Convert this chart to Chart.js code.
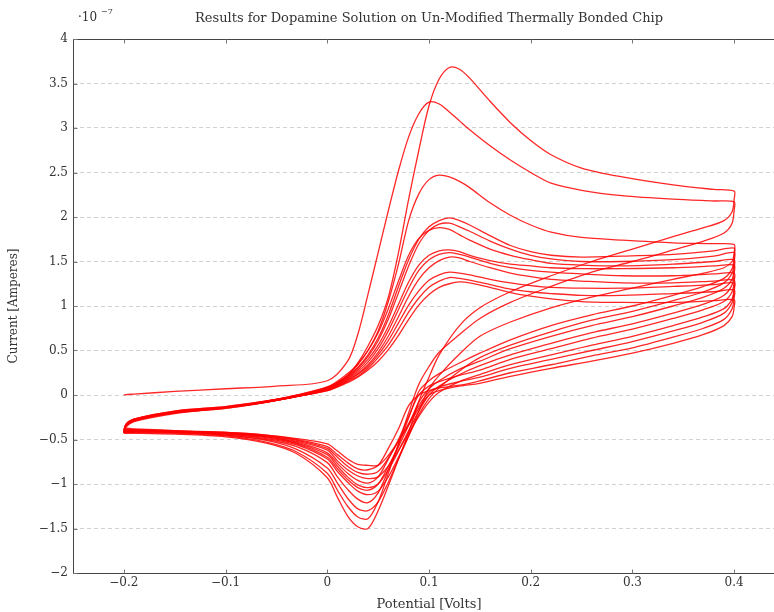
<!DOCTYPE html>
<html>
<head>
<meta charset="utf-8">
<script src="https://cdn.jsdelivr.net/npm/chart.js@4.4.1/dist/chart.umd.min.js"></script>
<style>
  html, body { margin: 0; padding: 0; background: #fff; overflow: hidden; }
  #wrap { width: 800px; height: 612px; }
</style>
</head>
<body>
<div id="wrap"><canvas id="cv" width="800" height="612"></canvas></div>
<script>
// tick labels
const xTicks = [-0.2, -0.1, 0, 0.1, 0.2, 0.3, 0.4];
const yTicks = [-2, -1.5, -1, -0.5, 0, 0.5, 1, 1.5, 2, 2.5, 3, 3.5, 4];

// potential [V] sampled on the forward (anodic) and reverse (cathodic) sweeps
const potentialFwd = [-0.2, -0.198, -0.19, -0.15, -0.1, -0.05, 0, 0.02, 0.03, 0.04, 0.05, 0.06, 0.07, 0.08,
  0.09, 0.1, 0.11, 0.12, 0.13, 0.14, 0.16, 0.18, 0.2, 0.22, 0.25, 0.29, 0.34, 0.38, 0.4];
const potentialRev = [0.4, 0.398, 0.39, 0.37, 0.34, 0.3, 0.26, 0.22, 0.18, 0.15, 0.13, 0.11, 0.1, 0.09,
  0.08, 0.07, 0.06, 0.05, 0.04, 0.03, 0.02, 0.01, 0, -0.03, -0.06, -0.1, -0.15, -0.19, -0.2];

// current [x1e-7 A], one forward + one reverse list per cycle
const fwd1 = [0, 0.005, 0.01, 0.04, 0.07, 0.1, 0.16, 0.38, 0.68, 1.13, 1.6, 2.07, 2.52, 2.9, 3.16, 3.29, 3.27, 3.18, 3.08, 2.98, 2.8, 2.64, 2.5, 2.38, 2.3, 2.24, 2.2, 2.18, 2.17];
const rev1 = [2.08, 1.93, 1.82, 1.73, 1.63, 1.5, 1.38, 1.22, 1.04, 0.86, 0.68, 0.48, 0.32, 0.12, -0.2, -0.55, -0.88, -1.2, -1.39, -1.37, -1.25, -1.07, -0.88, -0.64, -0.53, -0.46, -0.43, -0.42, -0.42];
const fwd2 = [-0.43, -0.36, -0.3, -0.21, -0.14, -0.05, 0.08, 0.22, 0.36, 0.55, 0.78, 1.1, 1.6, 2.2, 2.75, 3.25, 3.55, 3.68, 3.66, 3.56, 3.3, 3.06, 2.86, 2.7, 2.55, 2.45, 2.36, 2.31, 2.29];
const rev2 = [2.2, 2.06, 1.96, 1.88, 1.78, 1.64, 1.5, 1.34, 1.16, 0.98, 0.78, 0.45, 0.2, -0.07, -0.42, -0.72, -1.02, -1.3, -1.5, -1.48, -1.36, -1.15, -0.93, -0.66, -0.54, -0.47, -0.44, -0.43, -0.43];
const fwd3 = [-0.43, -0.35, -0.29, -0.2, -0.14, -0.05, 0.09, 0.22, 0.34, 0.5, 0.72, 1.05, 1.47, 1.96, 2.26, 2.42, 2.47, 2.45, 2.4, 2.33, 2.16, 2.02, 1.91, 1.83, 1.77, 1.74, 1.71, 1.7, 1.69];
const rev3 = [1.6, 1.5, 1.43, 1.37, 1.3, 1.2, 1.1, 0.98, 0.82, 0.66, 0.46, 0.22, 0.07, -0.18, -0.46, -0.72, -0.98, -1.2, -1.3, -1.28, -1.16, -0.99, -0.82, -0.61, -0.51, -0.45, -0.42, -0.4, -0.4];
const fwd4 = [-0.42, -0.35, -0.29, -0.2, -0.15, -0.06, 0.08, 0.21, 0.31, 0.45, 0.64, 0.9, 1.22, 1.52, 1.75, 1.89, 1.96, 1.99, 1.96, 1.91, 1.79, 1.68, 1.61, 1.57, 1.55, 1.56, 1.58, 1.62, 1.65];
const rev4 = [1.55, 1.42, 1.31, 1.22, 1.12, 1.0, 0.9, 0.78, 0.62, 0.47, 0.36, 0.24, 0.16, 0.04, -0.26, -0.56, -0.84, -1.1, -1.21, -1.17, -1.06, -0.92, -0.76, -0.58, -0.5, -0.45, -0.42, -0.41, -0.42];
const fwd5 = [-0.42, -0.35, -0.28, -0.2, -0.15, -0.06, 0.07, 0.2, 0.3, 0.43, 0.61, 0.85, 1.15, 1.45, 1.7, 1.85, 1.92, 1.93, 1.89, 1.84, 1.73, 1.64, 1.57, 1.53, 1.5, 1.5, 1.52, 1.56, 1.6];
const rev5 = [1.5, 1.37, 1.26, 1.16, 1.06, 0.94, 0.84, 0.71, 0.56, 0.42, 0.27, 0.08, -0.04, -0.22, -0.46, -0.7, -0.92, -1.08, -1.12, -1.08, -0.98, -0.86, -0.72, -0.56, -0.49, -0.44, -0.41, -0.39, -0.38];
const fwd6 = [-0.42, -0.34, -0.28, -0.19, -0.14, -0.05, 0.09, 0.24, 0.35, 0.5, 0.7, 0.97, 1.28, 1.57, 1.76, 1.85, 1.88, 1.86, 1.8, 1.74, 1.64, 1.57, 1.52, 1.48, 1.46, 1.45, 1.47, 1.5, 1.52];
const rev6 = [1.43, 1.3, 1.2, 1.1, 1.0, 0.88, 0.78, 0.66, 0.52, 0.38, 0.29, 0.16, 0.07, -0.08, -0.34, -0.58, -0.8, -1.0, -1.07, -1.04, -0.95, -0.83, -0.7, -0.55, -0.48, -0.44, -0.42, -0.41, -0.42];
const fwd7 = [-0.42, -0.34, -0.28, -0.19, -0.14, -0.06, 0.07, 0.19, 0.28, 0.4, 0.56, 0.77, 1.02, 1.27, 1.46, 1.57, 1.62, 1.63, 1.61, 1.57, 1.51, 1.47, 1.45, 1.43, 1.42, 1.42, 1.43, 1.45, 1.46];
const rev7 = [1.37, 1.24, 1.12, 1.02, 0.92, 0.8, 0.7, 0.58, 0.45, 0.33, 0.23, 0.1, 0.0, -0.18, -0.4, -0.63, -0.84, -1.0, -1.04, -1.01, -0.92, -0.8, -0.67, -0.54, -0.47, -0.43, -0.4, -0.38, -0.37];
const fwd8 = [-0.42, -0.34, -0.28, -0.19, -0.14, -0.06, 0.06, 0.18, 0.26, 0.37, 0.52, 0.72, 0.96, 1.2, 1.4, 1.52, 1.58, 1.6, 1.58, 1.55, 1.48, 1.43, 1.4, 1.38, 1.36, 1.34, 1.34, 1.36, 1.37];
const rev8 = [1.28, 1.16, 1.05, 0.96, 0.86, 0.74, 0.64, 0.52, 0.4, 0.28, 0.22, 0.15, 0.1, 0.0, -0.24, -0.5, -0.72, -0.92, -0.99, -0.96, -0.88, -0.77, -0.65, -0.53, -0.47, -0.43, -0.41, -0.4, -0.4];
const fwd9 = [-0.41, -0.34, -0.28, -0.19, -0.14, -0.06, 0.06, 0.17, 0.24, 0.34, 0.48, 0.66, 0.88, 1.11, 1.3, 1.43, 1.51, 1.55, 1.54, 1.5, 1.43, 1.37, 1.33, 1.3, 1.28, 1.26, 1.26, 1.28, 1.29];
const rev9 = [1.2, 1.08, 0.97, 0.88, 0.78, 0.66, 0.56, 0.45, 0.34, 0.23, 0.15, 0.03, -0.08, -0.24, -0.43, -0.62, -0.8, -0.92, -0.94, -0.91, -0.84, -0.74, -0.62, -0.52, -0.46, -0.43, -0.41, -0.41, -0.41];
const fwd10 = [-0.41, -0.33, -0.27, -0.19, -0.14, -0.06, 0.06, 0.16, 0.23, 0.32, 0.45, 0.61, 0.81, 1.01, 1.17, 1.29, 1.35, 1.38, 1.37, 1.35, 1.3, 1.26, 1.23, 1.21, 1.2, 1.2, 1.22, 1.24, 1.26];
const rev10 = [1.17, 1.04, 0.92, 0.82, 0.72, 0.6, 0.5, 0.4, 0.3, 0.2, 0.15, 0.09, 0.03, -0.12, -0.32, -0.52, -0.71, -0.86, -0.89, -0.87, -0.8, -0.7, -0.6, -0.51, -0.46, -0.42, -0.4, -0.39, -0.39];
const fwd11 = [-0.41, -0.33, -0.27, -0.18, -0.13, -0.05, 0.05, 0.15, 0.21, 0.3, 0.42, 0.56, 0.74, 0.93, 1.09, 1.21, 1.28, 1.32, 1.31, 1.29, 1.24, 1.19, 1.16, 1.14, 1.12, 1.12, 1.14, 1.16, 1.18];
const rev11 = [1.09, 0.97, 0.85, 0.75, 0.65, 0.53, 0.44, 0.34, 0.25, 0.16, 0.11, 0.08, 0.05, 0.0, -0.12, -0.38, -0.6, -0.79, -0.84, -0.83, -0.76, -0.67, -0.58, -0.5, -0.45, -0.42, -0.41, -0.41, -0.41];
const fwd12 = [-0.41, -0.33, -0.27, -0.18, -0.13, -0.05, 0.05, 0.14, 0.2, 0.28, 0.38, 0.51, 0.67, 0.85, 1.01, 1.13, 1.21, 1.25, 1.27, 1.26, 1.21, 1.15, 1.11, 1.08, 1.05, 1.04, 1.04, 1.06, 1.07];
const rev12 = [0.99, 0.88, 0.78, 0.68, 0.58, 0.47, 0.38, 0.3, 0.21, 0.13, 0.1, 0.05, 0.0, -0.15, -0.34, -0.52, -0.68, -0.79, -0.79, -0.78, -0.72, -0.63, -0.55, -0.49, -0.45, -0.42, -0.41, -0.4, -0.41];

const cycles = [
  [fwd1, rev1], [fwd2, rev2], [fwd3, rev3], [fwd4, rev4], [fwd5, rev5], [fwd6, rev6],
  [fwd7, rev7], [fwd8, rev8], [fwd9, rev9], [fwd10, rev10], [fwd11, rev11], [fwd12, rev12]
];

const serif = '"DejaVu Serif", "Liberation Serif", serif';
const textColor = '#333';

const datasets = cycles.map(([f, r]) => ({
  data: potentialFwd.map((x, i) => ({ x: x, y: f[i] }))
    .concat(potentialRev.map((x, i) => ({ x: x, y: r[i] }))),
  showLine: true,
  borderColor: 'rgba(255, 0, 0, 0.85)',
  borderWidth: 1.3,
  pointRadius: 0,
  tension: 0.3,
  fill: false
}));

// box, inward tick marks and the x10^-7 multiplier
const framePlugin = {
  id: 'frame',
  afterDraw(chart) {
    const { ctx, chartArea: a, scales } = chart;
    const L = Math.round(a.left) + 0.5, T = Math.round(a.top) + 0.5;
    const R = Math.round(a.right) + 0.5, B = Math.round(a.bottom) + 0.5;
    ctx.save();
    ctx.strokeStyle = '#444';
    ctx.lineWidth = 1;
    ctx.beginPath();
    ctx.moveTo(L, B); ctx.lineTo(L, T); ctx.lineTo(R, T); ctx.lineTo(R, B); ctx.closePath();
    ctx.stroke();
    ctx.strokeStyle = '#777';
    ctx.beginPath();
    xTicks.forEach(v => {
      const px = Math.round(scales.x.getPixelForValue(v)) + 0.5;
      ctx.moveTo(px, T); ctx.lineTo(px, T + 4);
      ctx.moveTo(px, B); ctx.lineTo(px, B - 4);
    });
    yTicks.forEach(v => {
      const py = Math.round(scales.y.getPixelForValue(v)) + 0.5;
      ctx.moveTo(L, py); ctx.lineTo(L + 4, py);
    });
    ctx.stroke();
    ctx.fillStyle = textColor;
    ctx.textBaseline = 'alphabetic';
    ctx.font = '12px ' + serif;
    ctx.fillText('\u00b710', 78, 21);
    ctx.font = '8px ' + serif;
    ctx.fillText('\u22127', 101, 14);
    ctx.restore();
  }
};

const fmt = v => String(v).replace('-', '\u2212');

new Chart(document.getElementById('cv'), {
  type: 'scatter',
  data: { datasets: datasets },
  plugins: [framePlugin],
  options: {
    responsive: false,
    animation: false,
    layout: { padding: { left: 0, right: 15, top: 0, bottom: 0 } },
    plugins: {
      legend: { display: false },
      tooltip: { enabled: false },
      title: {
        display: true,
        fullSize: false,
        text: 'Results for Dopamine Solution on Un-Modified Thermally Bonded Chip',
        color: textColor,
        font: { family: serif, size: 13, weight: 'normal' },
        padding: { top: 11, bottom: 12.4 }
      }
    },
    scales: {
      x: {
        type: 'linear',
        min: -0.25,
        max: 0.45,
        afterBuildTicks: s => { s.ticks = xTicks.map(v => ({ value: v })); },
        afterFit: s => { s.height = 39; },
        grid: { display: false, drawTicks: false },
        border: { display: false },
        ticks: { padding: 3, color: textColor, font: { family: serif, size: 12 }, callback: v => fmt(v) },
        title: {
          display: true, text: 'Potential [Volts]', color: textColor,
          font: { family: serif, size: 13 }, padding: { top: 0, bottom: 0 }
        }
      },
      y: {
        type: 'linear',
        min: -2,
        max: 4,
        afterBuildTicks: s => { s.ticks = yTicks.map(v => ({ value: v })); },
        afterFit: s => { s.width = 73; },
        grid: { color: '#d2d2d2', lineWidth: 1, drawTicks: false },
        border: { display: false, dash: [4, 3] },
        ticks: { padding: 5, color: textColor, font: { family: serif, size: 12 }, callback: v => fmt(v) },
        title: {
          display: true, text: 'Current [Amperes]', color: textColor,
          font: { family: serif, size: 12 }, padding: { top: 7, bottom: 0 }
        }
      }
    }
  }
});
</script>
</body>
</html>
